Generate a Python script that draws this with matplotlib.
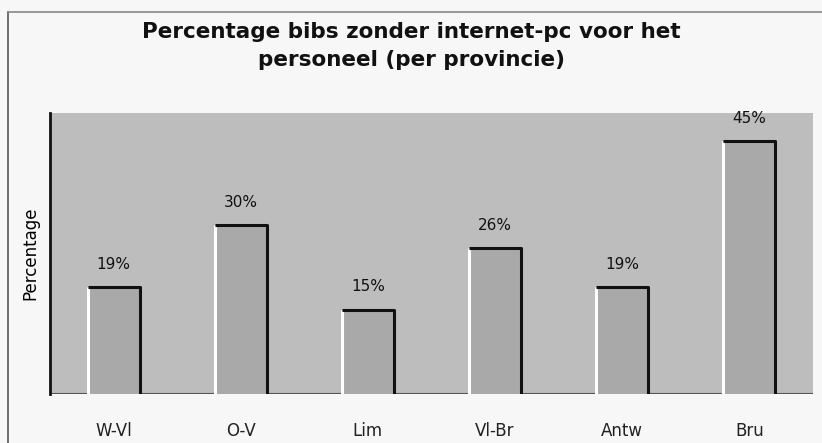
import matplotlib.pyplot as plt
from matplotlib.lines import Line2D

provincies = ["W-Vl", "O-V", "Lim", "Vl-Br", "Antw", "Bru"]
percentages = [19, 30, 15, 26, 19, 45]

fig = plt.figure(figsize=(8.22, 4.43), dpi=100)
fig.patch.set_facecolor("#f7f7f7")
ax = fig.add_axes([50/822, 49/443, 763/822, 281/443])
ax.set_facecolor("#bdbdbd")

x = list(range(len(provincies)))
w = 0.41
bars = ax.bar(x, percentages, width=w, color="#a9a9a9", edgecolor="none", zorder=2)

# 3D-achtige randen: wit links, zwart boven en rechts
for b in bars:
    x0, x1, h = b.get_x(), b.get_x() + b.get_width(), b.get_height()
    ax.plot([x0, x0], [0, h], color="white", lw=2.2, zorder=3, solid_capstyle="butt")
    ax.plot([x0, x1, x1], [h, h, 0], color="#111111", lw=2.2, zorder=4, solid_capstyle="butt")
    ax.annotate(f"{int(h)}%", (b.get_x() + b.get_width() / 2, h), xytext=(0, 11),
                textcoords="offset points", ha="center", va="bottom", fontsize=11, color="#111111")

ax.set_xlim(-0.5, len(provincies) - 0.5)
ax.set_ylim(0, 50)
ax.set_xticks(x)
ax.set_xticklabels(provincies, fontsize=12, color="#222222")
ax.tick_params(axis="x", length=0, pad=20)
ax.set_yticks([])
for s in ["top", "right", "bottom"]:
    ax.spines[s].set_visible(False)
ax.spines["left"].set_color("#111111")
ax.spines["left"].set_linewidth(2)
ax.axhline(0, color="#555555", lw=1.5, zorder=1)

ax.set_ylabel("Percentage", fontsize=12, labelpad=8)
fig.text(0.5, 1 - 46/443, "Percentage bibs zonder internet-pc voor het\npersoneel (per provincie)",
         ha="center", va="center", fontsize=15.5, fontweight="semibold", linespacing=1.55,
         color="#111111")

# kader rond de grafiek
fig.add_artist(Line2D([8/822, 8/822], [0, 1 - 12/443], color="#555555", lw=1.2))
fig.add_artist(Line2D([8/822, 1], [1 - 12/443, 1 - 12/443], color="#888888", lw=1.2))

fig.savefig("out.png", dpi=100, facecolor=fig.get_facecolor())
